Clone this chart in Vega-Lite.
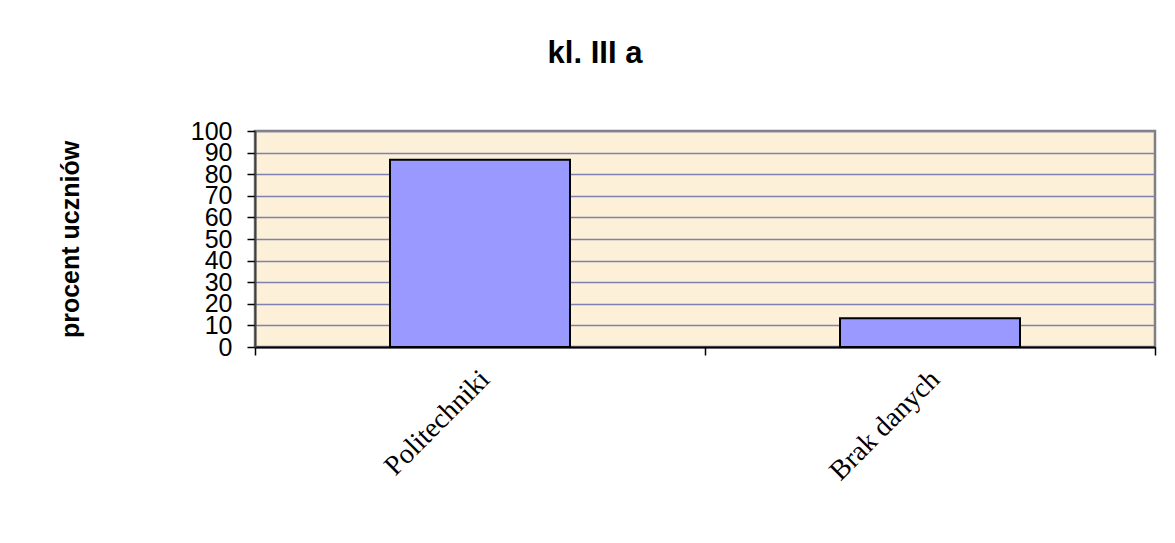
{
  "$schema": "https://vega.github.io/schema/vega-lite/v6.json",
  "width": 900,
  "height": 216,
  "autosize": "none",
  "padding": {"left": 255, "top": 131, "right": 20, "bottom": 196},
  "background": "white",
  "title": {
    "text": "kl. III a",
    "font": "Liberation Sans",
    "fontSize": 31,
    "fontWeight": "bold",
    "color": "black",
    "anchor": "middle",
    "frame": "group",
    "dx": -110,
    "offset": 49
  },
  "data": {
    "values": [
      {"kategoria": "Politechniki", "procent": 86.7},
      {"kategoria": "Brak danych", "procent": 13.3}
    ]
  },
  "mark": {"type": "bar", "color": "#9999ff", "stroke": "black", "strokeWidth": 2, "width": {"band": 0.4}},
  "encoding": {
    "x": {
      "field": "kategoria",
      "type": "nominal",
      "sort": null,
      "scale": {"paddingInner": 0, "paddingOuter": 0},
      "axis": {
        "title": null,
        "labelAngle": -45,
        "labelFont": "Liberation Serif",
        "labelFontSize": 28,
        "labelColor": "black",
        "labelPadding": 10,
        "labelOffset": -5,
        "tickBand": "extent",
        "tickSize": 8,
        "tickColor": "black",
        "tickWidth": 1.5,
        "domainColor": "black",
        "domainWidth": 2,
        "grid": false
      }
    },
    "y": {
      "field": "procent",
      "type": "quantitative",
      "scale": {"domain": [0, 100], "nice": false},
      "axis": {
        "title": "procent uczniów",
        "titleFont": "Liberation Sans",
        "titleFontSize": 25,
        "titleFontWeight": "bold",
        "titleColor": "black",
        "titlePadding": 107,
        "values": [0, 10, 20, 30, 40, 50, 60, 70, 80, 90, 100],
        "labelFont": "Liberation Sans",
        "labelFontSize": 25,
        "labelColor": "black",
        "labelPadding": 15,
        "labelOverlap": false,
        "labelFlush": false,
        "tickSize": 8,
        "tickColor": "black",
        "tickWidth": 1.5,
        "domainColor": "#404040",
        "domainWidth": 2,
        "grid": true,
        "gridColor": "#7f7fb0",
        "gridWidth": 1.5
      }
    }
  },
  "config": {
    "view": {"stroke": "#808080", "strokeWidth": 2.5, "fill": "#fdf0d8"}
  }
}
